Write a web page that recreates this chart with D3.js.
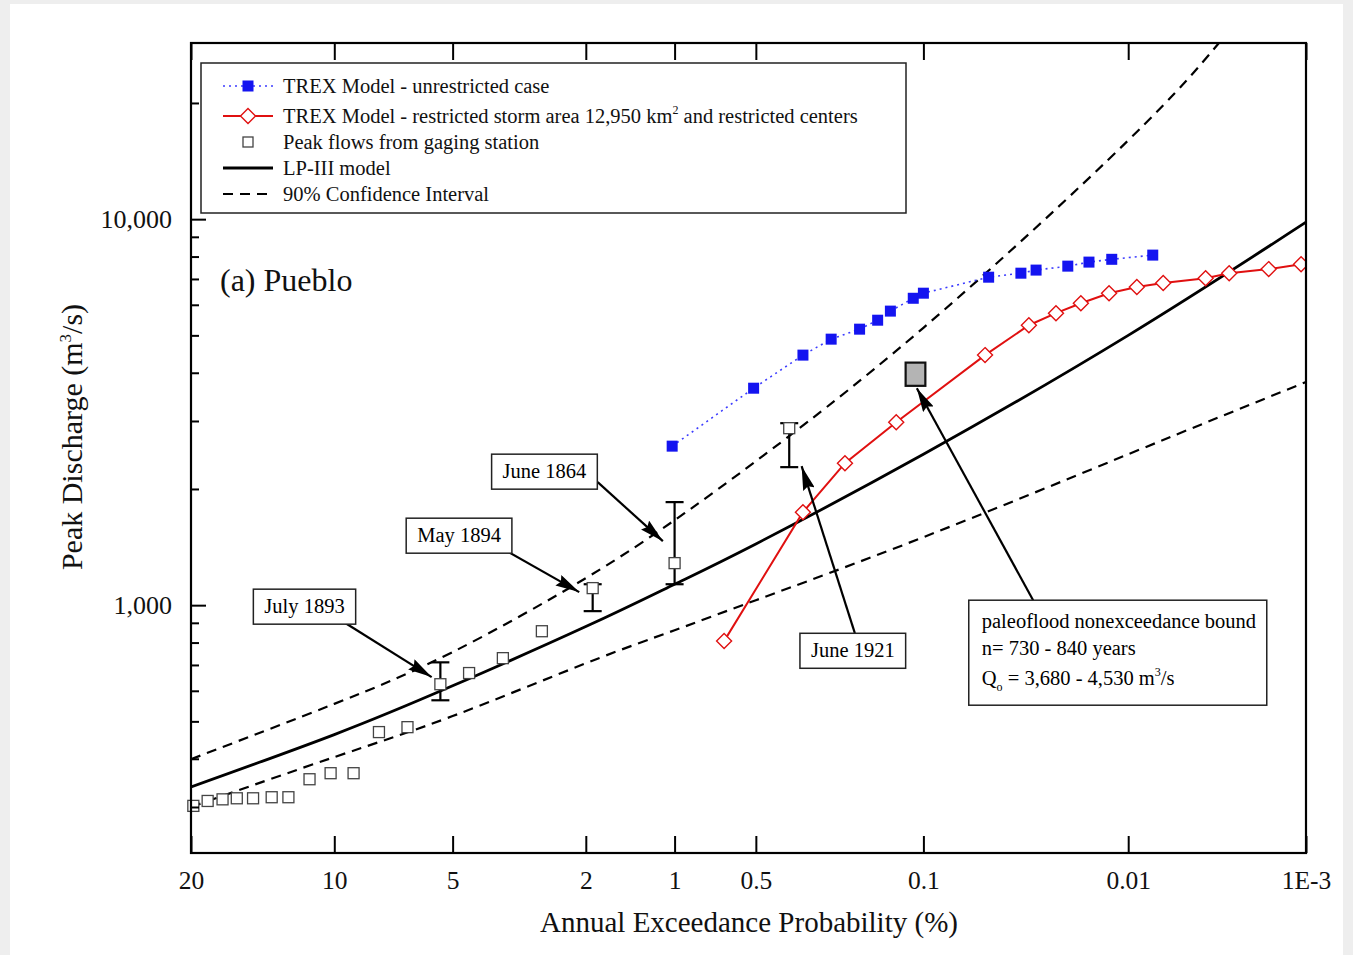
<!DOCTYPE html>
<html>
<head>
<meta charset="utf-8">
<script src="https://cdn.jsdelivr.net/npm/d3@7"></script>
<style>
  body { margin: 0; background: #eeeeee; }
  svg { display: block; font-family: "Liberation Serif", "Times New Roman", serif; }
</style>
</head>
<body>
<svg id="chart"></svg>
<script>
// ---- data (AEP in %, discharge in m3/s) ----
const aepTicks = [20, 10, 5, 2, 1, 0.5, 0.1, 0.01, 0.001];
const aepTickLabels = ['20', '10', '5', '2', '1', '0.5', '0.1', '0.01', '1E-3'];
const qMajorTicks = [1000, 10000];
const qMinorTicks = [300, 400, 500, 600, 700, 800, 900, 2000, 3000, 4000, 5000, 6000, 7000, 8000, 9000, 20000];

const lp3Aep = [20, 10, 5, 2, 1, 0.5, 0.1, 0.01, 0.001];
const lp3Q = [338, 462, 618, 880, 1133, 1441, 2460, 5000, 9820];

const ciUpperAep = [20, 10, 5, 2, 1, 0.5, 0.1, 0.01, 0.0032];
const ciUpperQ = [399, 555, 756, 1175, 1660, 2360, 5230, 16000, 28600];
const ciLowerAep = [20, 10, 5, 2, 1, 0.5, 0.1, 0.01, 0.001];
const ciLowerQ = [300, 404, 516, 707, 861, 1030, 1500, 2460, 3785];

const gageAep = [19.8, 18.6, 17.4, 16.3, 15.1, 13.8, 12.7, 11.4, 10.2, 9.0, 7.8, 6.6, 4.5, 3.6, 2.75];
const gageQ = [302, 311, 314, 316, 316, 318, 318, 354, 367, 367, 469, 483, 667, 729, 856];

const histNames = ['July 1893', 'May 1894', 'June 1864', 'June 1921'];
const histAep = [5.4, 1.9, 1.0, 0.37];
const histQ = [624, 1107, 1285, 2874];
const histLow = [567, 965, 1133, 2278];
const histHigh = [711, 1133, 1849, 2961];

const trexAep = [1.02, 0.51, 0.326, 0.25, 0.19, 0.159, 0.14, 0.111, 0.100, 0.050, 0.035, 0.0295, 0.0205, 0.016, 0.0122, 0.0074];
const trexQ = [2582, 3648, 4444, 4888, 5188, 5473, 5778, 6238, 6430, 7074, 7245, 7380, 7556, 7740, 7870, 8070];

const trexRAep = [0.66, 0.326, 0.219, 0.132, 0.052, 0.032, 0.0235, 0.0176, 0.0126, 0.0090, 0.0065, 0.0038, 0.0028, 0.00166, 0.00107];
const trexRQ = [807, 1741, 2333, 2979, 4444, 5311, 5708, 6055, 6430, 6670, 6830, 7030, 7245, 7423, 7645];

// paleoflood bound box: AEP range and Q range
const paleoAep = [0.12, 0.098];
const paleoQ = [3700, 4250];

// annotation anchors in data coords: box, arrow start, arrow tip
const labelNames = ['July 1893', 'May 1894', 'June 1864', 'June 1921'];
const labelBox = [[11.7, 994], [4.8, 1518], [2.7, 2224], [0.203, 764]];
const labelFrom = [[9.4, 898], [3.5, 1380], [1.83, 2083], [0.199, 846]];
const labelTo = [[5.7, 651], [2.1, 1081], [1.10, 1465], [0.33, 2291]];
const paleoBoxCorner = [0.062, 1030];
const paleoArrowFrom = [0.0305, 1030];
const paleoArrowTo = [0.107, 3648];

// ---- setup ----
const W = 1353, H = 955;
const margin = {top: 43, right: 47, bottom: 102, left: 191};
const width = W - margin.left - margin.right;
const height = H - margin.top - margin.bottom;

// inverse standard normal CDF (Acklam)
function probit(p) {
    const a = [-3.969683028665376e+01, 2.209460984245205e+02, -2.759285104469687e+02, 1.383577518672690e+02, -3.066479806614716e+01, 2.506628277459239e+00];
    const b = [-5.447609879822406e+01, 1.615858368580409e+02, -1.556989798598866e+02, 6.680131188771972e+01, -1.328068155288572e+01];
    const c = [-7.784894002430293e-03, -3.223964580411365e-01, -2.400758277161838e+00, -2.549732539343734e+00, 4.374664141464968e+00, 2.938163982698783e+00];
    const d = [7.784695709041462e-03, 3.224671290700398e-01, 2.445134137142996e+00, 3.754408661907416e+00];
    const plow = 0.02425;
    let q, r;
    if (p < plow) {
        q = Math.sqrt(-2 * Math.log(p));
        return (((((c[0]*q+c[1])*q+c[2])*q+c[3])*q+c[4])*q+c[5]) / ((((d[0]*q+d[1])*q+d[2])*q+d[3])*q+1);
    }
    if (p <= 1 - plow) {
        q = p - 0.5; r = q * q;
        return (((((a[0]*r+a[1])*r+a[2])*r+a[3])*r+a[4])*r+a[5])*q / (((((b[0]*r+b[1])*r+b[2])*r+b[3])*r+b[4])*r+1);
    }
    q = Math.sqrt(-2 * Math.log(1 - p));
    return -(((((c[0]*q+c[1])*q+c[2])*q+c[3])*q+c[4])*q+c[5]) / ((((d[0]*q+d[1])*q+d[2])*q+d[3])*q+1);
}
const zOf = aep => -probit(aep / 100);

// normal probability scale on x, log scale on y
const zScale = d3.scaleLinear().domain([zOf(20), zOf(0.001)]).range([0, width]);
const x = aep => zScale(zOf(aep));
const y = d3.scaleLog().domain([228, 28600]).range([height, 0]);

const svg = d3.select('#chart').attr('width', W).attr('height', H);
svg.append('rect').attr('x', 10).attr('y', 4).attr('width', 1333).attr('height', H - 4).attr('fill', '#fff');

const g = svg.append('g').attr('transform', `translate(${margin.left},${margin.top})`);

g.append('clipPath').attr('id', 'plot-clip')
    .append('rect').attr('width', width).attr('height', height);

const defs = svg.append('defs');
defs.append('marker')
    .attr('id', 'arrow')
    .attr('viewBox', '0 0 24 12')
    .attr('refX', 24).attr('refY', 6)
    .attr('markerWidth', 24).attr('markerHeight', 12)
    .attr('markerUnits', 'userSpaceOnUse')
    .attr('orient', 'auto')
    .append('path')
    .attr('d', 'M0,0 L24,6 L0,12 L3,6 Z')
    .attr('fill', '#000');

const zip = (a, b) => a.map((v, i) => [v, b[i]]);
const line = d3.line().x(d => x(d[0])).y(d => y(d[1])).curve(d3.curveNatural);
const plot = g.append('g').attr('clip-path', 'url(#plot-clip)');

// confidence interval
[zip(ciUpperAep, ciUpperQ), zip(ciLowerAep, ciLowerQ)].forEach(pts => {
    plot.append('path').datum(pts)
        .attr('d', line)
        .attr('fill', 'none')
        .attr('stroke', '#000')
        .attr('stroke-width', 2.2)
        .attr('stroke-dasharray', '10,7');
});

// LP-III
plot.append('path').datum(zip(lp3Aep, lp3Q))
    .attr('d', line)
    .attr('fill', 'none')
    .attr('stroke', '#000')
    .attr('stroke-width', 2.8);

// TREX unrestricted
const segLine = d3.line().x(d => x(d[0])).y(d => y(d[1]));
plot.append('path').datum(zip(trexAep, trexQ))
    .attr('d', segLine)
    .attr('fill', 'none')
    .attr('stroke', '#3c3cff')
    .attr('stroke-width', 1.6)
    .attr('stroke-dasharray', '2,4');
plot.selectAll('.trex').data(zip(trexAep, trexQ)).enter()
    .append('rect')
    .attr('x', d => x(d[0]) - 5.5)
    .attr('y', d => y(d[1]) - 5.5)
    .attr('width', 11).attr('height', 11)
    .attr('fill', '#1414f0');

// TREX restricted
plot.append('path').datum(zip(trexRAep, trexRQ))
    .attr('d', segLine)
    .attr('fill', 'none')
    .attr('stroke', '#e01010')
    .attr('stroke-width', 2);
plot.selectAll('.trexr').data(zip(trexRAep, trexRQ)).enter()
    .append('path')
    .attr('transform', d => `translate(${x(d[0])},${y(d[1])})`)
    .attr('d', 'M0,-7.5 L7.5,0 L0,7.5 L-7.5,0 Z')
    .attr('fill', '#fff')
    .attr('stroke', '#e01010')
    .attr('stroke-width', 1.4);

// gaging station peaks
g.selectAll('.gage').data(zip(gageAep, gageQ)).enter()
    .append('rect')
    .attr('x', d => x(d[0]) - 5.5)
    .attr('y', d => y(d[1]) - 5.5)
    .attr('width', 11).attr('height', 11)
    .attr('fill', '#fff')
    .attr('stroke', '#444')
    .attr('stroke-width', 1.3);

// historic floods with ranges
histNames.forEach((name, i) => {
    const cx = x(histAep[i]);
    const eg = g.append('g').attr('stroke', '#000').attr('stroke-width', 2.2);
    eg.append('line').attr('x1', cx).attr('x2', cx).attr('y1', y(histLow[i])).attr('y2', y(histHigh[i]));
    [histLow[i], histHigh[i]].forEach(v => {
        eg.append('line').attr('x1', cx - 9).attr('x2', cx + 9).attr('y1', y(v)).attr('y2', y(v));
    });
    g.append('rect')
        .attr('x', cx - 5.5).attr('y', y(histQ[i]) - 5.5)
        .attr('width', 11).attr('height', 11)
        .attr('fill', '#fff').attr('stroke', '#444').attr('stroke-width', 1.3);
});

// paleoflood nonexceedance bound
g.append('rect')
    .attr('x', x(paleoAep[0]))
    .attr('y', y(paleoQ[1]))
    .attr('width', x(paleoAep[1]) - x(paleoAep[0]))
    .attr('height', y(paleoQ[0]) - y(paleoQ[1]))
    .attr('fill', '#b4b4b4')
    .attr('stroke', '#111')
    .attr('stroke-width', 2.2);

// annotation arrows + boxes
function arrow(from, to) {
    g.append('line')
        .attr('x1', x(from[0])).attr('y1', y(from[1]))
        .attr('x2', x(to[0])).attr('y2', y(to[1]))
        .attr('stroke', '#000').attr('stroke-width', 2.2)
        .attr('marker-end', 'url(#arrow)');
}
labelNames.forEach((name, i) => {
    arrow(labelFrom[i], labelTo[i]);
    const bx = x(labelBox[i][0]), by = y(labelBox[i][1]);
    const lg = g.append('g');
    const box = lg.append('rect');
    const t = lg.append('text')
        .attr('x', bx).attr('y', by + 7)
        .attr('text-anchor', 'middle')
        .style('font-size', '20.5px')
        .text(name);
    const tw = t.node().getComputedTextLength();
    box.attr('x', bx - tw / 2 - 11).attr('y', by - 17)
        .attr('width', tw + 22).attr('height', 35)
        .attr('fill', '#fff').attr('stroke', '#222').attr('stroke-width', 1.5);
});

arrow(paleoArrowFrom, paleoArrowTo);
const px = x(paleoBoxCorner[0]), py = y(paleoBoxCorner[1]);
const pg = g.append('g');
const pbox = pg.append('rect');
const pt = pg.append('text').attr('x', px + 13).style('font-size', '20.5px');
pt.append('tspan').attr('x', px + 13).attr('y', py + 28).text('paleoflood nonexceedance bound');
pt.append('tspan').attr('x', px + 13).attr('y', py + 55).text('n= 730 - 840 years');
const l3 = pt.append('tspan').attr('x', px + 13).attr('y', py + 85);
l3.append('tspan').text('Q');
l3.append('tspan').attr('dy', 6).style('font-size', '12px').text('o');
l3.append('tspan').attr('dy', -6).text(' = 3,680 - 4,530 m');
l3.append('tspan').attr('dy', -9).style('font-size', '12px').text('3');
l3.append('tspan').attr('dy', 9).text('/s');
pbox.attr('x', px).attr('y', py).attr('width', 298).attr('height', 105)
    .attr('fill', '#fff').attr('stroke', '#222').attr('stroke-width', 1.5);

// axes (inward ticks)
const zTicks = aepTicks.map(zOf);
const xAxis = d3.axisBottom(zScale)
    .tickValues(zTicks)
    .tickFormat((d, i) => aepTickLabels[i])
    .tickSizeInner(-17).tickSizeOuter(0).tickPadding(18);
const xg = g.append('g').attr('transform', `translate(0,${height})`).call(xAxis);
xg.select('.domain').remove();
xg.selectAll('text').style('font-size', '25.5px').attr('fill', '#111').style('font-family', 'Liberation Serif');
xg.selectAll('line').attr('stroke-width', 2);

const xTop = g.append('g').call(d3.axisTop(zScale).tickValues(zTicks).tickFormat('').tickSizeInner(-17).tickSizeOuter(0));
xTop.select('.domain').remove();
xTop.selectAll('line').attr('stroke-width', 2);

const yg = g.append('g').call(d3.axisLeft(y)
    .tickValues(qMajorTicks)
    .tickFormat(d3.format(','))
    .tickSizeInner(-15).tickSizeOuter(0).tickPadding(19));
yg.select('.domain').remove();
yg.selectAll('text').style('font-size', '26px').attr('fill', '#111').style('font-family', 'Liberation Serif');
yg.selectAll('line').attr('stroke-width', 2);

const ygm = g.append('g').call(d3.axisLeft(y)
    .tickValues(qMinorTicks)
    .tickFormat('')
    .tickSizeInner(-8).tickSizeOuter(0));
ygm.select('.domain').remove();
ygm.selectAll('line').attr('stroke-width', 2);

// frame
g.append('rect').attr('width', width).attr('height', height)
    .attr('fill', 'none').attr('stroke', '#000').attr('stroke-width', 2.2);

// axis titles
svg.append('text')
    .attr('x', 749).attr('y', 932)
    .attr('text-anchor', 'middle')
    .style('font-size', '29px')
    .attr('fill', '#111')
    .text('Annual Exceedance Probability (%)');

const yl = svg.append('text')
    .attr('transform', 'translate(82,437) rotate(-90)')
    .attr('text-anchor', 'middle')
    .style('font-size', '30px')
    .attr('fill', '#111');
yl.append('tspan').text('Peak Discharge (m');
yl.append('tspan').attr('dy', -11).style('font-size', '17px').text('3');
yl.append('tspan').attr('dy', 11).text('/s)');

// panel label
svg.append('text').attr('x', 220).attr('y', 291)
    .style('font-size', '32px').attr('fill', '#111')
    .text('(a) Pueblo');

// legend
const leg = svg.append('g');
leg.append('rect').attr('x', 201).attr('y', 63).attr('width', 705).attr('height', 150)
    .attr('fill', '#fff').attr('stroke', '#222').attr('stroke-width', 1.5);
const rows = [86, 116, 142, 168, 194];
const lx1 = 223, lx2 = 273, lm = 248, tx = 283;
leg.append('line').attr('x1', lx1).attr('x2', lx2).attr('y1', rows[0]).attr('y2', rows[0])
    .attr('stroke', '#3c3cff').attr('stroke-width', 1.6).attr('stroke-dasharray', '2,4');
leg.append('rect').attr('x', lm - 5.5).attr('y', rows[0] - 5.5).attr('width', 11).attr('height', 11).attr('fill', '#1414f0');
leg.append('line').attr('x1', lx1).attr('x2', lx2).attr('y1', rows[1]).attr('y2', rows[1])
    .attr('stroke', '#e01010').attr('stroke-width', 2);
leg.append('path').attr('transform', `translate(${lm},${rows[1]})`)
    .attr('d', 'M0,-7.5 L7.5,0 L0,7.5 L-7.5,0 Z')
    .attr('fill', '#fff').attr('stroke', '#e01010').attr('stroke-width', 1.4);
leg.append('rect').attr('x', lm - 5).attr('y', rows[2] - 5).attr('width', 10).attr('height', 10)
    .attr('fill', '#fff').attr('stroke', '#444').attr('stroke-width', 1.3);
leg.append('line').attr('x1', lx1).attr('x2', lx2).attr('y1', rows[3]).attr('y2', rows[3])
    .attr('stroke', '#000').attr('stroke-width', 2.8);
leg.append('line').attr('x1', lx1).attr('x2', lx2).attr('y1', rows[4]).attr('y2', rows[4])
    .attr('stroke', '#000').attr('stroke-width', 2.2).attr('stroke-dasharray', '10,7');

const legText = (row) => leg.append('text').attr('x', tx).attr('y', rows[row] + 7)
    .style('font-size', '20.5px').attr('fill', '#111');
legText(0).text('TREX Model - unrestricted case');
const lt1 = legText(1);
lt1.append('tspan').text('TREX Model - restricted storm area 12,950 km');
lt1.append('tspan').attr('dy', -9).style('font-size', '12px').text('2');
lt1.append('tspan').attr('dy', 9).text(' and restricted centers');
legText(2).text('Peak flows from gaging station');
legText(3).text('LP-III model');
legText(4).text('90% Confidence Interval');
</script>
</body>
</html>
